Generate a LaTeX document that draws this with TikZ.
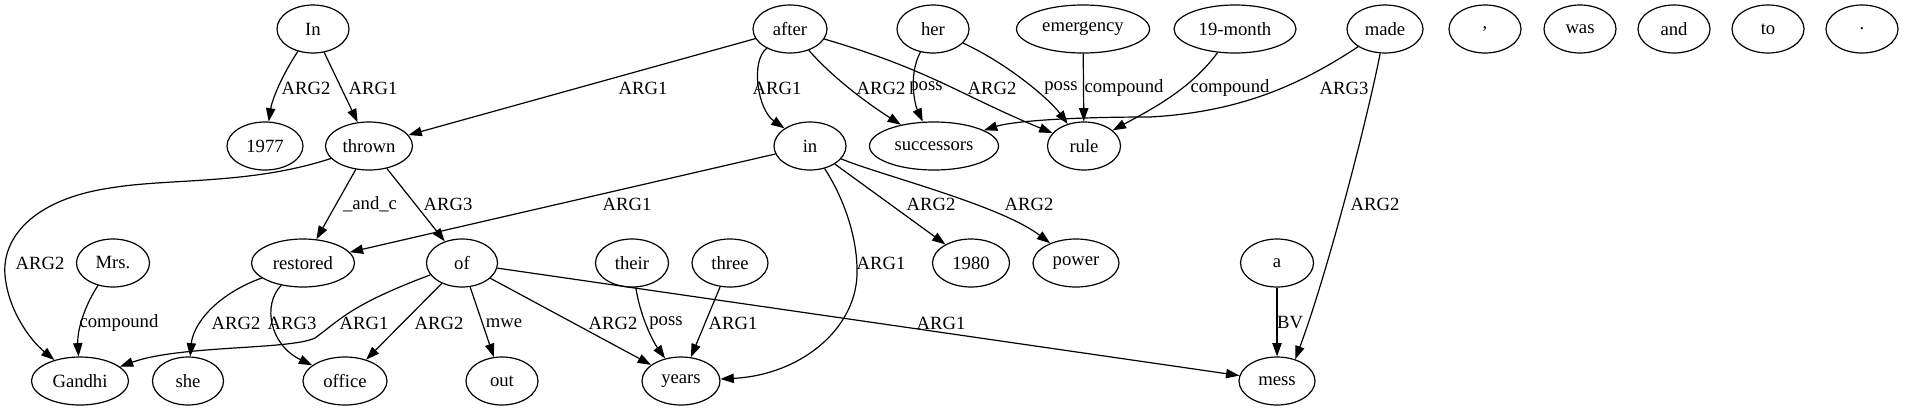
\documentclass[tikz,border=0pt]{standalone}
\usepackage{fontspec}
\setmainfont{Liberation Serif}
\usetikzlibrary{shapes.geometric,arrows.meta}
\begin{document}
\begin{tikzpicture}[x=0.75pt,y=-0.75pt,
  nd/.style={ellipse,draw,line width=0.9pt,inner sep=0pt,minimum height=36pt,minimum width={#1*0.75pt},font=\fontsize{14pt}{16pt}\selectfont},
  nd/.default=72,
  e/.style={draw,line width=0.9pt,-{Triangle[length=10pt,width=7pt]}},
  lbl/.style={font=\fontsize{14pt}{16pt}\selectfont,inner sep=0pt}]
\useasboundingbox (0,0) rectangle (1913,411);
% row 0
\node[nd=72] (In) at (313,29) {In};
\node[nd=74] (after) at (790,29) {after};
\node[nd=72] (her) at (933,29) {her};
\node[nd=133] (emergency) at (1083,29) {emergency};
\node[nd=122] (n19month) at (1235,29) {19-month};
\node[nd=76] (made) at (1385,29) {made};
\node[nd=72] (comma) at (1485,29) {,};
\node[nd=72] (was) at (1580,29) {was};
\node[nd=72] (and) at (1674,29) {and};
\node[nd=72] (to) at (1768,29) {to};
\node[nd=72] (dot) at (1862,29) {.};
% row 1
\node[nd=76] (n1977) at (265,146) {1977};
\node[nd=87] (thrown) at (369,146) {thrown};
\node[nd=72] (in) at (810,146) {in};
\node[nd=129] (successors) at (934,146) {successors};
\node[nd=73] (rule) at (1084,146) {rule};
% row 2
\node[nd=73] (Mrs) at (113,263) {Mrs.};
\node[nd=103] (restored) at (303,263) {restored};
\node[nd=71] (of) at (462,263) {of};
\node[nd=73] (their) at (632,263) {their};
\node[nd=76] (three) at (730,263) {three};
\node[nd=77] (n1980) at (971,263) {1980};
\node[nd=86] (power) at (1076,263) {power};
\node[nd=73] (a) at (1277,263) {a};
% row 3
\node[nd=97] (Gandhi) at (80,381) {Gandhi};
\node[nd=71] (she) at (188,381) {she};
\node[nd=84] (office) at (345,381) {office};
\node[nd=72] (out) at (502,381) {out};
\node[nd=78] (years) at (681,381) {years};
\node[nd=76] (mess) at (1277,381) {mess};
% edges
\draw[e] (In) .. controls (282,75) and (272,100) .. (n1977) node[lbl] at (306,88) {ARG2};
\draw[e] (In) -- (thrown) node[lbl] at (373,88) {ARG1};
\draw[e] (after) -- (thrown) node[lbl] at (643,88) {ARG1};
\draw[e] (after) .. controls (750,62) and (758,110) .. (in) node[lbl] at (777,88) {ARG1};
\draw[e] (after) .. controls (835,80) and (870,105) .. (successors) node[lbl] at (881,88) {ARG2};
\draw[e] (her) .. controls (908,75) and (915,105) .. (successors) node[lbl] at (926,88) {poss};
\draw[e] (after) .. controls (930,70) and (960,95) .. (rule) node[lbl] at (992,88) {ARG2};
\draw[e] (her) .. controls (1010,65) and (1050,100) .. (rule) node[lbl] at (1061,88) {poss};
\draw[e] (emergency) -- (rule) node[lbl] at (1124,88) {compound};
\draw[e] (n19month) .. controls (1190,90) and (1150,110) .. (rule) node[lbl] at (1230,88) {compound};
\draw[e] (made) .. controls (1300,85) and (1240,112) .. (1150,117) .. controls (1060,117) and (1010,122) .. (successors) node[lbl] at (1344,88) {ARG3};
\draw[e] (made) .. controls (1365,130) and (1325,280) .. (mess.50) node[lbl] at (1375,204) {ARG2};
\draw[e] (thrown) .. controls (250,185) and (170,178) .. (110,188) .. controls (30,200) and (2,240) .. (5,275) .. controls (8,310) and (30,340) .. (Gandhi) node[lbl] at (40,263) {ARG2};
\draw[e] (thrown) -- (restored) node[lbl] at (370,204) {\_and\_c};
\draw[e] (thrown) -- (of) node[lbl] at (448,204) {ARG3};
\draw[e] (in) -- (restored) node[lbl] at (627,204) {ARG1};
\draw[e] (in) .. controls (845,200) and (858,240) .. (857,275) .. controls (855,330) and (800,375) .. (years) node[lbl] at (881,263) {ARG1};
\draw[e] (in) -- (n1980) node[lbl] at (931,204) {ARG2};
\draw[e] (in) .. controls (880,175) and (1000,205) .. (power) node[lbl] at (1029,204) {ARG2};
\draw[e] (Mrs) .. controls (85,305) and (77,330) .. (Gandhi) node[lbl] at (119,323) {compound};
\draw[e] (restored) .. controls (215,295) and (193,325) .. (she) node[lbl] at (236,323) {ARG2};
\draw[e] (restored) .. controls (262,305) and (270,345) .. (office) node[lbl] at (292,323) {ARG3};
\draw[e] (of) .. controls (350,305) and (340,320) .. (315,338) .. controls (290,350) and (180,345) .. (Gandhi) node[lbl] at (364,323) {ARG1};
\draw[e] (of) -- (office) node[lbl] at (439,323) {ARG2};
\draw[e] (of) -- (out) node[lbl] at (504,323) {mwe};
\draw[e] (of) -- (years) node[lbl] at (613,323) {ARG2};
\draw[e] (of) -- (mess) node[lbl] at (941,323) {ARG1};
\draw[e] (their) .. controls (640,315) and (652,340) .. (years) node[lbl] at (666,323) {poss};
\draw[e] (three) -- (years) node[lbl] at (733,323) {ARG1};
\draw[e] (a) -- (mess) node[lbl] at (1290,323) {BV};
\end{tikzpicture}
\end{document}
